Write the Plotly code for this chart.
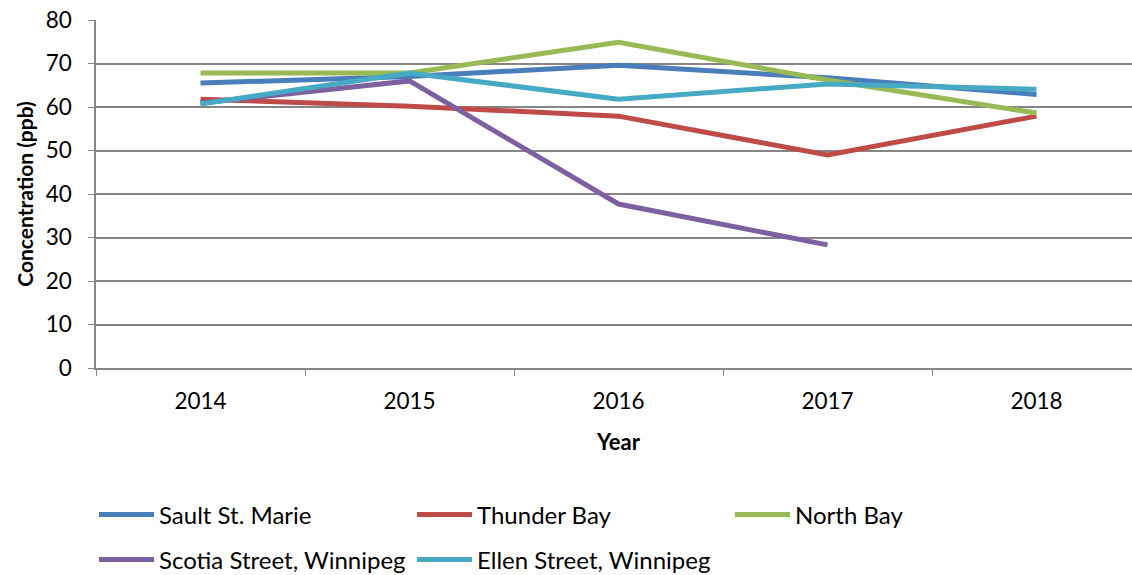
import plotly.graph_objects as go

years = ["2014", "2015", "2016", "2017", "2018"]
sault = [65.5, 67.0, 69.6, 66.7, 62.9]
thunder = [61.8, 60.2, 57.9, 49.0, 57.9]
north = [67.8, 67.8, 74.9, 66.2, 58.6]
scotia = [60.9, 66.0, 37.7, 28.3, None]
ellen = [60.7, 67.8, 61.8, 65.3, 64.1]

series = [
    ("Sault St. Marie", sault, "#4A7EBB", "legend"),
    ("Thunder Bay", thunder, "#BE4B48", "legend"),
    ("North Bay", north, "#98B954", "legend"),
    ("Scotia Street, Winnipeg", scotia, "#7D60A0", "legend2"),
    ("Ellen Street, Winnipeg", ellen, "#46AAC5", "legend2"),
]

FONT = "Lato"
W = 1141
fig = go.Figure()
for name, vals, col, lg in series:
    fig.add_trace(go.Scatter(x=years, y=vals, name=name, mode="lines", legend=lg,
                             line=dict(color=col, width=5)))

leg_common = dict(orientation="h", xref="container", yref="container",
                  xanchor="left", yanchor="middle",
                  entrywidth=248, entrywidthmode="pixels", itemwidth=55,
                  font=dict(family=FONT, size=24), bgcolor="rgba(0,0,0,0)")

fig.update_layout(
    width=W, height=575,
    margin=dict(l=96, r=0, t=20, b=207),
    paper_bgcolor="white", plot_bgcolor="white",
    font=dict(family=FONT, size=22.5, color="black"),
    showlegend=True,
    legend=dict(**leg_common, x=94 / W, y=1 - 515 / 575),
    legend2=dict(**leg_common, x=94 / W, y=1 - 560 / 575),
    xaxis=dict(type="category", showgrid=False, showline=True, linecolor="#868686",
               linewidth=1.5, ticks="outside", tickson="boundaries", ticklen=6,
               tickcolor="#868686", range=[-0.5, 4.5], ticklabelstandoff=12,
               title=dict(text="<b>Year</b>", standoff=22, font=dict(size=22))),
    yaxis=dict(range=[0, 80], dtick=10, showgrid=True, gridcolor="#868686", gridwidth=1.5,
               showline=True, linecolor="#868686", linewidth=1.5, ticks="outside",
               ticklen=6, tickcolor="#868686", zeroline=False, ticklabelstandoff=12,
               title=dict(text="<b>Concentration (ppb)</b>", standoff=6, font=dict(size=21))),
)

fig.write_html("out.html", config={"displayModeBar": False},
               post_script="document.body.style.margin='0';document.body.style.overflow='hidden';")
